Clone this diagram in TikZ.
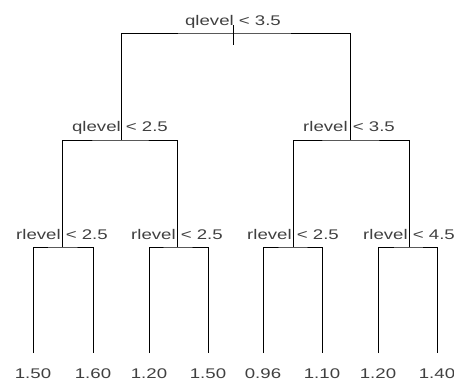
\documentclass[tikz,border=0pt]{standalone}
\usepackage{fontspec}
\setmainfont{Liberation Sans}
\begin{document}
\begin{tikzpicture}[x=1pt,y=-1pt,
  edge/.style={line width=1pt,black},
  lbl/.style={anchor=base,inner sep=0pt,text=black!75,font=\fontsize{14}{16}\selectfont}]
\useasboundingbox (0,0) rectangle (454,381);
% split points
\coordinate (n1) at (233,33);
\coordinate (n2) at (121,140);
\coordinate (n3) at (350,140);
\coordinate (n4) at (62,247);
\coordinate (n5) at (177,247);
\coordinate (n6) at (293,247);
\coordinate (n7) at (409,247);
% leaves
\coordinate (l1) at (33,353);
\coordinate (l2) at (93,353);
\coordinate (l3) at (149,353);
\coordinate (l4) at (208,353);
\coordinate (l5) at (263,353);
\coordinate (l6) at (322,353);
\coordinate (l7) at (378,353);
\coordinate (l8) at (437,353);
\coordinate (t1) at (233,25);
\coordinate (t2) at (233,45);
% edges
\draw[edge] (t1) -- (t2);
\draw[edge] (n2) |- (n1) -| (n3);
\draw[edge] (n4) |- (n2) -| (n5);
\draw[edge] (n6) |- (n3) -| (n7);
\draw[edge] (l1) |- (n4) -| (l2);
\draw[edge] (l3) |- (n5) -| (l4);
\draw[edge] (l5) |- (n6) -| (l6);
\draw[edge] (l7) |- (n7) -| (l8);
% split labels
\node[lbl] (s1) at (233,25) {\scalebox{1.33}[1]{qlevel < 3.5}};
\node[lbl] (s2) at (120,131) {\scalebox{1.33}[1]{qlevel < 2.5}};
\node[lbl] (s3) at (349,131) {\scalebox{1.33}[1]{rlevel < 3.5}};
\node[lbl] (s4) at (62,239) {\scalebox{1.33}[1]{rlevel < 2.5}};
\node[lbl] (s5) at (177,239) {\scalebox{1.33}[1]{rlevel < 2.5}};
\node[lbl] (s6) at (293,239) {\scalebox{1.33}[1]{rlevel < 2.5}};
\node[lbl] (s7) at (409,239) {\scalebox{1.33}[1]{rlevel < 4.5}};
% leaf labels
\node[lbl] (v1) at (33,378) {\scalebox{1.33}[1]{1.50}};
\node[lbl] (v2) at (93,378) {\scalebox{1.33}[1]{1.60}};
\node[lbl] (v3) at (149,378) {\scalebox{1.33}[1]{1.20}};
\node[lbl] (v4) at (208,378) {\scalebox{1.33}[1]{1.50}};
\node[lbl] (v5) at (263,378) {\scalebox{1.33}[1]{0.96}};
\node[lbl] (v6) at (322,378) {\scalebox{1.33}[1]{1.10}};
\node[lbl] (v7) at (378,378) {\scalebox{1.33}[1]{1.20}};
\node[lbl] (v8) at (437,378) {\scalebox{1.33}[1]{1.40}};
\end{tikzpicture}
\end{document}
